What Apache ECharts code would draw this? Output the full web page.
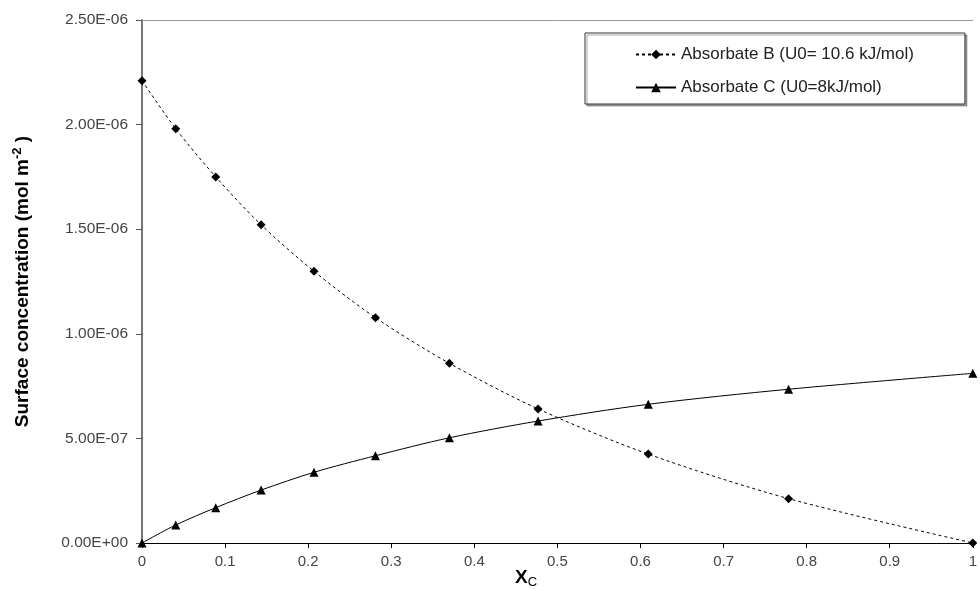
<!DOCTYPE html>
<html>
<head>
<meta charset="utf-8">
<script src="https://cdn.jsdelivr.net/npm/echarts@6/dist/echarts.min.js"></script>
<style>html,body{margin:0;padding:0;background:#fff}#c{width:980px;height:589px}</style>
</head>
<body>
<div id="c"></div>
<script>
var xC = [0, 0.0406, 0.0888, 0.1434, 0.207, 0.281, 0.370, 0.4767, 0.6093, 0.7782, 1.0];
var absorbateB = [2.21e-6, 1.98e-6, 1.75e-6, 1.521e-6, 1.299e-6, 1.077e-6, 0.859e-6, 0.641e-6, 0.425e-6, 0.212e-6, 0];
var absorbateC = [0, 0.086e-6, 0.169e-6, 0.253e-6, 0.338e-6, 0.417e-6, 0.503e-6, 0.583e-6, 0.663e-6, 0.735e-6, 0.811e-6];
var seriesNames = ['Absorbate B (U0= 10.6 kJ/mol)', 'Absorbate C (U0=8kJ/mol)'];

function pairs(xs, ys) { return xs.map(function (x, i) { return [x, ys[i]]; }); }
function sci(v) {
  if (v === 0) return '0.00E+00';
  var s = v.toExponential(2).toUpperCase();
  var p = s.split('E');
  var e = parseInt(p[1], 10);
  var sign = e < 0 ? '-' : '+';
  var a = Math.abs(e);
  return p[0] + 'E' + sign + (a < 10 ? '0' + a : a);
}

var font = 'Liberation Sans, Arial, sans-serif';
var chart = echarts.init(document.getElementById('c'), null, {renderer: 'canvas'});
chart.setOption({
  animation: false,
  backgroundColor: '#fff',
  grid: {left: 142, right: 1, top: 20, bottom: 46, containLabel: false},
  xAxis: [{
    type: 'value', min: 0, max: 1, interval: 0.1,
    axisLine: {show: true, onZero: false, lineStyle: {color: '#000', width: 1}},
    axisTick: {show: true, length: 5, lineStyle: {color: '#000'}},
    axisLabel: {color: '#444', fontFamily: font, fontSize: 15, margin: 11,
      formatter: function (v) { return String(Math.round(v * 10) / 10); }},
    splitLine: {show: false}
  }, {
    type: 'value', min: 0, max: 1, position: 'top',
    axisLine: {show: true, onZero: false, lineStyle: {color: '#999', width: 1}},
    axisTick: {show: false}, axisLabel: {show: false}, splitLine: {show: false}
  }],
  yAxis: {
    type: 'value', min: 0, max: 2.5e-6, interval: 5e-7,
    axisLine: {show: true, onZero: false, lineStyle: {color: '#777', width: 2}},
    axisTick: {show: true, length: 6, lineStyle: {color: '#555'}},
    axisLabel: {color: '#444', fontFamily: font, fontSize: 15.5, margin: 14, formatter: sci},
    splitLine: {show: false},
    name: 'Surface concentration (mol m{sup|-2} )',
    nameLocation: 'middle', nameRotate: 90, nameGap: 108,
    nameTextStyle: {color: '#000', fontFamily: font, fontSize: 19, fontWeight: 'bold',
      rich: {sup: {fontSize: 13, fontWeight: 'bold', fontFamily: font, color: '#000', verticalAlign: 'top', padding: [0, 0, 10, 0]}}}
  },
  legend: {
    orient: 'vertical', left: 585, top: 33,
    padding: [13, 51, 8, 50], itemGap: 16, itemWidth: 40, itemHeight: 12,
    backgroundColor: '#fff', borderColor: '#333', borderWidth: 1,
    shadowColor: 'rgba(0,0,0,0.35)', shadowOffsetX: 2, shadowOffsetY: 2, shadowBlur: 0,
    textStyle: {color: '#222', fontFamily: font, fontSize: 17},
    data: seriesNames
  },
  graphic: [{
    type: 'text', left: 515, top: 568,
    style: {text: '{x|X}{c|C}', rich: {
      x: {fontFamily: font, fontSize: 19, fontWeight: 'bold', fill: '#000'},
      c: {fontFamily: font, fontSize: 13, fill: '#000', verticalAlign: 'bottom', padding: [9, 0, 0, 0]}
    }}
  }],
  series: [{
    name: seriesNames[0], type: 'line', smooth: 0.3,
    data: pairs(xC, absorbateB),
    symbol: 'diamond', symbolSize: 9,
    itemStyle: {color: '#000'},
    lineStyle: {color: '#000', width: 1, type: [3, 3]}
  }, {
    name: seriesNames[1], type: 'line', smooth: 0.3,
    data: pairs(xC, absorbateC),
    symbol: 'triangle', symbolSize: 9,
    itemStyle: {color: '#000'},
    lineStyle: {color: '#000', width: 1, type: 'solid'}
  }]
});
</script>
</body>
</html>
